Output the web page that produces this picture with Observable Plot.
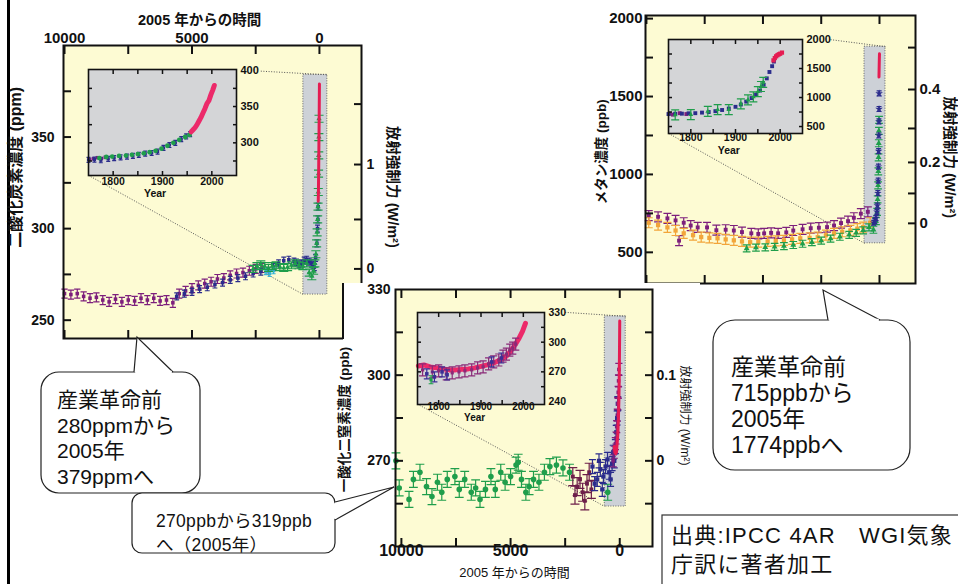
<!DOCTYPE html>
<html><head><meta charset="utf-8">
<script src="https://cdn.jsdelivr.net/npm/d3@7"></script>
<script src="https://cdn.jsdelivr.net/npm/@observablehq/plot@0.6"></script>
<style>
body{margin:0;background:#fff;}
#wrap{position:relative;width:958px;height:584px;overflow:hidden;background:#fff;}
</style></head><body><div id="wrap"></div>
<script>
// ================= DATA =================
// time before 2005 (years) and concentrations, main panels
const co2PurpleT = [10000, 9750, 9500, 9250, 9000, 8750, 8500, 8250, 8000, 7750, 7500, 7250, 7000, 6750, 6500, 6250, 6000, 5750, 5500, 5250, 5000, 4750, 4500, 4250, 4000, 3750, 3500, 3250, 3000, 2750, 2500, 2250];
const co2PurpleV = [264.5, 264, 264.5, 263, 262, 262.5, 261, 260, 261.5, 260, 261, 260.5, 262, 261, 262, 260.5, 261, 259.5, 264.5, 266, 267.5, 269, 270, 271, 272.5, 273, 274.5, 275.5, 276, 277, 278, 278.5];
const co2BlueT = [5600, 5300, 5000, 4700, 4400, 4100, 3800, 3500, 3200, 2900, 2600, 2300, 2000, 1800, 1600, 1400, 1200, 1000, 900, 800, 700, 600, 500, 400, 300, 250, 200, 150, 100, 75, 60, 50];
const co2BlueV = [263, 264.5, 265.5, 267, 268, 269.5, 270.5, 272, 273, 274, 275.5, 276.5, 277, 279, 281, 282.5, 283, 282, 281.5, 280.5, 281, 282.5, 283, 282, 281, 280, 279, 284, 292, 300, 305, 312];
const co2GreenT = [2600, 2450, 2300, 2150, 2000, 1850, 1700, 1550, 1400, 1250, 1100, 950, 800, 650, 500, 400, 300, 230, 180, 140, 110, 90, 70, 55, 45, 35, 28, 22, 16];
const co2GreenV = [278, 279.5, 280.5, 279.5, 278.5, 279.5, 280, 279, 278.5, 279, 280, 281, 280, 279.5, 281, 276, 274, 277, 281, 286, 292, 298, 305, 312, 320, 330, 340, 350, 360];
const co2CyanT = [2100, 1950, 1800];
const co2CyanV = [276.5, 275.5, 277];
const co2RedT = [47, 40, 30, 20, 10, 0];
const co2RedV = [315, 320, 331, 346, 361, 379];

const ch4PurpleT = [9900, 9500, 9100, 8750, 8600, 8400, 8100, 7800, 7400, 7000, 6600, 6250, 5900, 5500, 5200, 4950, 4650, 4350, 4000, 3700, 3300, 2950, 2600, 2250, 1950, 1650, 1350, 1100, 800, 500];
const ch4PurpleV = [735, 728, 718, 705, 575, 690, 672, 660, 660, 642, 645, 640, 630, 622, 618, 622, 625, 622, 628, 640, 648, 655, 658, 662, 672, 688, 700, 722, 748, 760];
const ch4OrangeT = [9900, 9500, 9100, 8750, 8400, 8000, 7650, 7300, 6950, 6600, 6250, 5900, 5550, 5200, 4800, 4450, 4100, 3750, 3400, 3000, 2650, 2300, 1950, 1600, 1250, 950, 700, 400];
const ch4OrangeV = [690, 675, 660, 640, 622, 610, 598, 593, 590, 583, 577, 570, 565, 566, 570, 573, 577, 583, 590, 593, 597, 610, 622, 632, 641, 652, 662, 690];
const ch4GreenT = [5700, 5300, 4900, 4500, 4100, 3700, 3300, 2900, 2500, 2100, 1700, 1300, 1000, 700, 450, 260, 150, 100, 80, 60, 50, 40, 32, 26, 20];
const ch4GreenV = [525, 530, 532, 535, 540, 547, 555, 565, 575, 588, 600, 612, 625, 641, 660, 645, 700, 760, 840, 930, 1020, 1110, 1200, 1280, 1350];
const ch4BlueT = [250, 200, 150, 110, 90, 70, 55, 45, 38, 30, 25, 20, 16];
const ch4BlueV = [690, 700, 720, 760, 800, 880, 960, 1050, 1150, 1250, 1340, 1420, 1520];
const ch4RedT = [22, 18, 14, 10, 6, 2, 0];
const ch4RedV = [1625, 1660, 1690, 1720, 1745, 1765, 1774];

const n2oGreenT = [10250, 10100, 9650, 9450, 9150, 8850, 8600, 8350, 8150, 7900, 7550, 7350, 7100, 6800, 6600, 6400, 6150, 5900, 5700, 5450, 5250, 5000, 4750, 4650, 4500, 4300, 4150, 3950, 3700, 3450, 3200, 2900, 2600, 2300, 550];
const n2oGreenV = [270, 260.5, 256.5, 263.5, 266, 261, 257.5, 262.5, 259, 263.5, 264.5, 260, 263.5, 259, 260.5, 256.5, 260, 264.5, 260, 266, 262.5, 264.5, 268.5, 269.5, 263.5, 259, 261, 263.5, 262.5, 266, 268, 268.5, 267.5, 266, 259];
const n2oMaroonT = [2150, 2050, 1950, 1820, 1700, 1600, 1500, 1400, 1300];
const n2oMaroonV = [264.5, 258, 261, 263.5, 259, 256, 262, 266, 260];
const n2oBlueT = [1250, 1150, 1030, 950, 890, 800, 750, 650, 560, 480, 420, 350, 300, 250, 200, 160, 120, 90];
const n2oBlueV = [268, 262, 263.5, 270, 267, 260, 264.5, 268, 270.5, 266, 263.5, 269, 273, 270, 275, 280, 285, 290];
const n2oPurpleT = [300, 250, 200, 170, 140, 110, 90, 70, 55, 40];
const n2oPurpleV = [270, 273, 276, 278, 282, 286, 290, 294, 298, 302];
const n2oRedT = [255, 220, 180, 150, 120, 90, 60, 40, 25, 10, 0];
const n2oRedV = [275, 273, 272.5, 273, 276, 279, 285, 291, 298, 310, 319];

// insets: calendar year and concentration
const co2InPurpleY = [1752, 1760, 1768, 1776, 1784];
const co2InPurpleV = [277, 278, 279.5, 278.5, 280];
const co2InBlueY = [1750, 1762, 1775, 1790, 1802, 1815, 1828, 1840, 1852, 1865, 1878, 1890, 1902, 1914, 1926, 1938, 1948, 1956];
const co2InBlueV = [276.5, 277, 276, 278, 279, 280, 281, 282, 283.5, 285, 286, 288, 293, 297, 300, 305, 309, 312];
const co2InGreenY = [1772, 1786, 1798, 1812, 1826, 1838, 1850, 1862, 1874, 1886, 1898, 1910, 1922, 1934, 1946, 1955];
const co2InGreenV = [279, 280.5, 281, 282, 282.5, 283.5, 284.5, 285.5, 287, 289, 292, 296, 300, 304, 308, 311];
const co2InRedY = [1958, 1962, 1966, 1970, 1974, 1978, 1982, 1986, 1990, 1994, 1998, 2002, 2005];
const co2InRedV = [315, 318, 321, 325, 330, 335, 341, 347, 354, 358, 366, 373, 379];

const ch4InPurpleY = [1752, 1760, 1775, 1790];
const ch4InPurpleV = [720, 705, 730, 715];
const ch4InBlueY = [1750, 1765, 1780, 1795, 1810, 1825, 1840, 1855, 1870, 1885, 1900, 1912, 1924, 1936, 1946, 1955, 1963, 1970, 1976, 1982, 1986];
const ch4InBlueV = [715, 720, 722, 728, 730, 740, 750, 765, 785, 810, 840, 880, 930, 990, 1050, 1120, 1220, 1330, 1440, 1540, 1620];
const ch4InGreenY = [1765, 1800, 1838, 1860, 1885, 1912, 1928, 1940, 1950, 1957, 1962];
const ch4InGreenV = [700, 705, 760, 790, 790, 890, 960, 1010, 1100, 1190, 1260];
const ch4InRedY = [1985, 1988, 1991, 1994, 1997, 2000, 2004];
const ch4InRedV = [1640, 1680, 1710, 1730, 1745, 1755, 1774];

const n2oInRedY = [1752, 1765, 1780, 1795, 1810, 1825, 1840, 1855, 1870, 1885, 1900, 1915, 1930, 1945, 1960, 1970, 1980, 1990, 1998, 2005];
const n2oInRedV = [276, 277, 275, 274, 273, 272, 272, 272.5, 273, 274, 275.5, 277, 279, 282, 286, 291, 297, 304, 311, 319];
const n2oInPurpleY = [1762, 1785, 1800, 1818, 1832, 1848, 1862, 1878, 1892, 1905, 1918, 1930, 1942, 1952, 1960, 1968, 1975, 1982];
const n2oInPurpleV = [272, 270, 271, 268, 269, 270, 271, 272, 274, 275, 278, 280, 282, 286, 288, 292, 294, 298];
const n2oInBlueY = [1772, 1790, 1808, 1820, 1925, 1948];
const n2oInBlueV = [268, 265, 270, 267, 280, 284];
const n2oInGreenY = [1782];
const n2oInGreenV = [262];

// axis ticks / labels
const timeTicks = [10000, 7500, 5000, 2500, 0];
const timeLabels = [10000, 5000, 0];
const yearTicks = [1800, 1850, 1900, 1950, 2000];
const yearLabels = [1800, 1900, 2000];
const co2Ticks = [250, 275, 300, 325, 350, 375];
const co2Labels = [250, 300, 350];
const co2ForcingAt = [278, 305, 335, 368];          // ppm where forcing = 0, 0.5, 1, 1.5
const co2ForcingLabels = [{v: 278, s: "0"}, {v: 335, s: "1"}];
const ch4Ticks = [500, 750, 1000, 1250, 1500, 1750, 2000];
const ch4Labels = [500, 1000, 1500, 2000];
const ch4ForcingAt = [686, 878, 1077, 1295, 1545, 1814]; // ppb for 0 .. 0.5
const ch4ForcingLabels = [{v: 686, s: "0"}, {v: 1077, s: "0.2"}, {v: 1545, s: "0.4"}];
const n2oTicks = [255, 270, 285, 300, 315];
const n2oLabels = [270, 300, 330];
const n2oForcingAt = [255, 270, 285, 300, 315];
const n2oForcingLabels = [{v: 270, s: "0"}, {v: 300, s: "0.1"}];
const co2InTicks = [275, 300, 325, 350, 375];
const co2InLabels = [300, 350, 400];
const ch4InTicks = [500, 750, 1000, 1250, 1500, 1750];
const ch4InLabels = [500, 1000, 1500, 2000];
const n2oInTicks = [255, 270, 285, 300, 315];
const n2oInLabels = [240, 270, 300, 330];

const timeTitle = "2005 年からの時間";
const forcingTitle = "放射強制力 (W/m²)";
const co2Title = "二酸化炭素濃度 (ppm)";
const ch4Title = "メタン濃度 (ppb)";
const n2oTitle = "一酸化二窒素濃度 (ppb)";

const calloutCO2 = ["産業革命前", "280ppmから", "2005年", "379ppmへ"];
const calloutCH4 = ["産業革命前", "715ppbから", "2005年", "1774ppbへ"];
const calloutN2O = ["270ppbから319ppb", "へ（2005年）"];
const sourceText = ["出典:IPCC 4AR\u3000WGI気象", "庁訳に著者加工"];

// ================= STYLE =================
const YELLOW = "#fdfbd3", INSET_GREY = "#d4d5d7", ZOOM_GREY = "#cdd1d7";
const PURPLE = "#7d1f7c", BLUE = "#2b2c8c", GREEN = "#1f9e4b", RED = "#e51c52",
      ORANGE = "#f2a53a", MAROON = "#6d1f49", CYAN = "#36b3d6", PINK = "#ec2a6a";
const SANS = "'Liberation Sans', Arial, 'Noto Sans CJK JP', sans-serif";
const JP = "'Liberation Sans', 'Noto Sans CJK JP', sans-serif";
const wrap = document.getElementById("wrap");

function place(el, left, top) {
  el.style.position = "absolute"; el.style.left = left + "px"; el.style.top = top + "px";
  wrap.appendChild(el); return el;
}
function ibeam(cap) {
  return {draw(ctx, size) {
    const r = Math.sqrt(size / Math.PI), c = r * cap;
    ctx.moveTo(-c, -r); ctx.lineTo(c, -r);
    ctx.moveTo(0, -r); ctx.lineTo(0, r);
    ctx.moveTo(-c, r); ctx.lineTo(c, r);
  }};
}
const pts = (ts, vs) => ts.map((t, i) => ({t, v: vs[i]}));
function series(ts, vs, color, o = {}) {
  const d = pts(ts, vs), out = [];
  if (o.err) out.push(Plot.dot(d, {x: "t", y: "v", r: o.err, symbol: ibeam(o.cap ?? 0.6), stroke: color, strokeWidth: o.ew ?? 1.2, fill: "none"}));
  out.push(Plot.dot(d, {x: "t", y: "v", r: o.r ?? 1.8, symbol: o.symbol ?? "square", fill: color, stroke: "none"}));
  return out;
}
const curve = (ts, vs, color, w) => Plot.line(pts(ts, vs), {x: "t", y: "v", stroke: color, strokeWidth: w, strokeLinecap: "round", strokeLinejoin: "round"});
const lbl = (o) => ({fill: "#111", fontWeight: "bold", fontFamily: SANS, ...o});

function axes(xt, yt, rt, tick, sw) {
  const a = {tickSize: -tick, tickFormat: () => "", label: null, strokeWidth: sw, stroke: "#111"};
  return [
    Plot.axisX({...a, anchor: "top", ticks: xt}), Plot.axisX({...a, anchor: "bottom", ticks: xt}),
    Plot.axisY({...a, anchor: "left", ticks: yt}), Plot.axisY({...a, anchor: "right", ticks: rt})
  ];
}

function buildMain(c) {
  const marks = [
    Plot.frame({fill: YELLOW}),
    Plot.rect([c.zoom], {x1: "t1", x2: "t2", y1: "v1", y2: "v2", fill: ZOOM_GREY, stroke: "#666", strokeWidth: 1, strokeDasharray: "1,1.5"}),
    Plot.link(c.links, {x1: "t1", y1: "v1", x2: "t2", y2: "v2", stroke: "#555", strokeWidth: 1, strokeDasharray: "1,1.6"}),
    ...c.series,
    ...axes(timeTicks, c.yTicks, c.rTicks, 8, 2),
    Plot.frame({stroke: "#111", strokeWidth: 2}),
    ...c.texts
  ];
  const svg = Plot.plot({
    width: c.w, height: c.h, marginLeft: c.mL, marginRight: c.mR, marginTop: c.mT, marginBottom: c.mB,
    x: {domain: c.xDomain, axis: null}, y: {domain: c.yDomain, axis: null},
    style: {background: c.bg || "transparent", overflow: "visible"}, marks
  });
  place(svg, c.left, c.top);
  return {svg, left: c.left, top: c.top, c};
}

function buildInset(c, host) {
  const sx = host.svg.scale("x"), sy = host.svg.scale("y");
  const fx0 = host.left + sx.apply(c.box.t1), fx1 = host.left + sx.apply(c.box.t2);
  const fy0 = host.top + sy.apply(c.box.v1), fy1 = host.top + sy.apply(c.box.v2);
  const m = {l: 4, r: 40, t: 10, b: 40};
  const W = Math.round(fx1 - fx0), H = Math.round(fy1 - fy0);
  const svg = Plot.plot({
    width: W + m.l + m.r, height: H + m.t + m.b, marginLeft: m.l, marginRight: m.r, marginTop: m.t, marginBottom: m.b,
    x: {domain: [1750, 2050], axis: null}, y: {domain: c.yDomain, axis: null},
    style: {background: "transparent", overflow: "visible"},
    marks: [
      Plot.frame({fill: INSET_GREY}),
      ...c.series,
      ...axes(yearTicks, c.yTicks, c.yTicks, 4, 1.5),
      Plot.frame({stroke: "#111", strokeWidth: 1.6}),
      Plot.text(yearLabels, lbl({x: d => d, text: d => String(d), frameAnchor: "bottom", dy: c.dyTick, fontSize: c.fx ?? 10.5})),
      Plot.text([{t: 1885, s: "Year"}], lbl({x: "t", text: "s", frameAnchor: "bottom", dy: c.dyYear, fontSize: c.fx ?? 10.5})),
      Plot.text(c.yLabels, lbl({y: d => d, text: d => String(d), frameAnchor: "right", dx: 4, textAnchor: "start", fontSize: c.fs ?? 11}))
    ]
  });
  place(svg, Math.round(fx0) - m.l, Math.round(fy0) - m.t);
}

// ================= CO2 =================
const co2Panel = buildMain({
  left: 0, top: 0, w: 420, h: 345, mL: 63, mR: 59, mT: 45, mB: 7,
  xDomain: [10040, -1650], yDomain: [240, 400], yTicks: co2Ticks, rTicks: co2ForcingAt,
  zoom: {t1: 630, t2: -310, v1: 264, v2: 384},
  links: [{t1: 2300, v1: 386, t2: -310, v2: 384}, {t1: 9060, v1: 329.1, t2: 630, v2: 264}],
  series: [
    ...series(co2PurpleT, co2PurpleV, PURPLE, {err: 4.5, cap: 0.7, r: 2}),
    ...series(co2BlueT, co2BlueV, BLUE, {err: 3.5, cap: 0.7, r: 2}),
    ...series(co2CyanT, co2CyanV, CYAN, {err: 3, cap: 0.7, r: 1.8}),
    ...series(co2GreenT, co2GreenV, GREEN, {err: 3.5, cap: 1.3, r: 2, symbol: "triangle"}),
    curve(co2RedT, co2RedV, RED, 3)
  ],
  texts: [
    Plot.text(timeLabels, lbl({x: d => d, text: d => String(d), frameAnchor: "top", dy: -13, fontSize: 15})),
    Plot.text([{t: 4700, s: timeTitle}], lbl({x: "t", text: "s", frameAnchor: "top", dy: -31, fontSize: 14.5})),
    Plot.text(co2Labels, lbl({y: d => d, text: d => String(d), frameAnchor: "left", dx: -9, textAnchor: "end", fontSize: 14})),
    Plot.text(co2ForcingLabels, lbl({y: "v", text: "s", frameAnchor: "right", dx: 5, textAnchor: "start", fontSize: 14}))
  ]
});
buildInset({
  box: {t1: 9060, t2: 3255, v1: 386.8, v2: 329.1}, yDomain: [255, 401], yTicks: co2InTicks, yLabels: co2InLabels,
  dyTick: 9, dyYear: 21,
  series: [
    ...series(co2InPurpleY, co2InPurpleV, PURPLE, {r: 2}),
    ...series(co2InBlueY, co2InBlueV, BLUE, {err: 2.5, cap: 0.8, r: 1.8}),
    ...series(co2InGreenY, co2InGreenV, GREEN, {r: 2.4, symbol: "circle"}),
    curve(co2InRedY, co2InRedV, PINK, 5)
  ]
}, co2Panel);

// ================= CH4 =================
const ch4Panel = buildMain({
  left: 560, top: 0, w: 398, h: 300, mL: 85, mR: 43, mT: 15, mB: 17,
  xDomain: [10040, -1545], yDomain: [300, 2020], yTicks: ch4Ticks, rTicks: ch4ForcingAt,
  zoom: {t1: 643, t2: -257, v1: 558, v2: 1820},
  links: [{t1: 2100, v1: 1865, t2: -257, v2: 1820}, {t1: 9048, v1: 1263, t2: 643, v2: 558}],
  series: [
    ...series(ch4PurpleT, ch4PurpleV, PURPLE, {err: 5, cap: 0.8, r: 2.2}),
    ...series(ch4OrangeT, ch4OrangeV, ORANGE, {err: 5, cap: 0.8, r: 2.4}),
    ...series(ch4GreenT, ch4GreenV, GREEN, {err: 3.5, cap: 1.1, r: 2.2, symbol: "triangle"}),
    ...series(ch4BlueT, ch4BlueV, BLUE, {err: 2.5, cap: 1, r: 2.4, symbol: "star"}),
    curve(ch4RedT, ch4RedV, RED, 3)
  ],
  texts: [
    Plot.text(ch4Labels, lbl({y: d => d, text: d => String(d), frameAnchor: "left", dx: -3, textAnchor: "end", fontSize: 15})),
    Plot.text(ch4ForcingLabels, lbl({y: "v", text: "s", frameAnchor: "right", dx: 4, textAnchor: "start", fontSize: 15}))
  ]
});
buildInset({
  box: {t1: 9048, t2: 3302, v1: 1865, v2: 1263}, yDomain: [380, 2000], yTicks: ch4InTicks, yLabels: ch4InLabels,
  dyTick: 7, dyYear: 20,
  series: [
    ...series(ch4InPurpleY, ch4InPurpleV, PURPLE, {r: 2.2}),
    ...series(ch4InBlueY, ch4InBlueV, BLUE, {r: 2.2}),
    ...series(ch4InGreenY, ch4InGreenV, GREEN, {err: 5, cap: 0.8, r: 1.8, symbol: "triangle"}),
    ...series(ch4InRedY, ch4InRedV, RED, {r: 2.4})
  ]
}, ch4Panel);

// ================= N2O =================
const n2oPanel = buildMain({
  left: 343, top: 283, w: 357, h: 301, mL: 52, mR: 48, mT: 6, mB: 38, bg: "#ffffff",
  xDomain: [10270, -1500], yDomain: [240, 330], yTicks: n2oTicks, rTicks: n2oForcingAt,
  zoom: {t1: 685, t2: -274, v1: 254, v2: 320.6},
  links: [{t1: 2500, v1: 322, t2: -274, v2: 320.6}, {t1: 9270, v1: 289.9, t2: 685, v2: 254}],
  series: [
    ...series(n2oGreenT, n2oGreenV, GREEN, {err: 8, cap: 0.55, r: 2.8, symbol: "circle"}),
    ...series(n2oMaroonT, n2oMaroonV, MAROON, {err: 9, cap: 0.5, r: 2.2}),
    ...series(n2oBlueT, n2oBlueV, BLUE, {err: 7, cap: 0.5, r: 2.4}),
    ...series(n2oPurpleT, n2oPurpleV, PURPLE, {err: 6, cap: 0.6, r: 2}),
    curve(n2oRedT, n2oRedV, RED, 3)
  ],
  texts: [
    Plot.text(timeLabels, lbl({x: d => d, text: d => String(d), frameAnchor: "bottom", dy: 9, fontSize: 16})),
    Plot.text([{t: 4818, s: timeTitle}], lbl({x: "t", text: "s", frameAnchor: "bottom", dy: 30, fontSize: 13, fontWeight: "normal"})),
    Plot.text(n2oLabels, lbl({y: d => d, text: d => String(d), frameAnchor: "left", dx: -5, textAnchor: "end", fontSize: 14})),
    Plot.text(n2oForcingLabels, lbl({y: "v", text: "s", frameAnchor: "right", dx: 4, textAnchor: "start", fontSize: 14}))
  ]
});
buildInset({
  box: {t1: 9270, t2: 3455, v1: 322, v2: 289.9}, yDomain: [237, 330], yTicks: n2oInTicks, yLabels: n2oInLabels,
  dyTick: 5, dyYear: 16, fs: 10.5, fx: 10,
  series: [
    curve(n2oInRedY, n2oInRedV, PINK, 5),
    ...series(n2oInPurpleY, n2oInPurpleV, "#8a2a78", {err: 6, cap: 0.6, r: 1.8}),
    ...series(n2oInBlueY, n2oInBlueV, "#3a2f96", {err: 5, cap: 0.6, r: 2}),
    ...series(n2oInGreenY, n2oInGreenV, GREEN, {err: 4, cap: 0.6, r: 1.8})
  ]
}, n2oPanel);

// ================= ANNOTATIONS =================
const ov = d3.create("svg").attr("width", 958).attr("height", 584)
  .attr("style", "position:absolute;left:0;top:0;overflow:visible");
ov.append("rect").attr("x", 7).attr("y", 0).attr("width", 3).attr("height", 584).attr("fill", "#000");
// edge where the N2O picture is pasted over the CO2 frame
ov.append("line").attr("x1", n2oPanel.left).attr("x2", n2oPanel.left).attr("y1", n2oPanel.top)
  .attr("y2", co2Panel.top + co2Panel.c.h - co2Panel.c.mB + 1).attr("stroke", "#111").attr("stroke-width", 2);

// rotated axis titles, positioned through each panel's own y scale
function vtitle(host, t) {
  const c = host.c, sy = host.svg.scale("y");
  const fx = t.side === "left" ? c.mL : c.w - c.mR;
  const x = host.left + fx + t.dx, y = host.top + sy.apply(t.v);
  ov.append("text").attr("transform", `translate(${x},${y}) rotate(${t.rotate})`)
    .attr("text-anchor", "middle").attr("dy", "0.36em")
    .attr("font-family", SANS).attr("font-size", t.fs).attr("font-weight", t.weight || "bold")
    .attr("fill", "#111").text(t.s);
}
vtitle(co2Panel, {s: co2Title, v: 333.2, side: "left", dx: -48, rotate: -90, fs: 16});
vtitle(co2Panel, {s: forcingTitle, v: 322.5, side: "right", dx: 32, rotate: 90, fs: 14.5});
vtitle(ch4Panel, {s: ch4Title, v: 1142, side: "left", dx: -44, rotate: -90, fs: 13.5});
vtitle(ch4Panel, {s: forcingTitle, v: 1107, side: "right", dx: 35, rotate: 90, fs: 14.5});
vtitle(n2oPanel, {s: n2oTitle, v: 284.3, side: "left", dx: -51, rotate: -90, fs: 13.5});
vtitle(n2oPanel, {s: forcingTitle, v: 285.7, side: "right", dx: 33, rotate: 90, fs: 12, weight: "normal"});

function callout(b) {
  const g = ov.append("g");
  g.append("rect").attr("x", b.x).attr("y", b.y).attr("width", b.w).attr("height", b.h).attr("rx", b.r)
    .attr("fill", "#fff").attr("stroke", "#222").attr("stroke-width", 1.2);
  g.append("path").attr("d", `M${b.b1}L${b.tip}L${b.b2}`).attr("fill", "#fff").attr("stroke", "#222").attr("stroke-width", 1.2);
  const dx = b.b2[0] - b.b1[0], dy = b.b2[1] - b.b1[1], L = Math.hypot(dx, dy), ux = dx / L, uy = dy / L;
  g.append("path").attr("d", `M${b.b1[0] + ux * 1.2},${b.b1[1] + uy * 1.2}L${b.b2[0] - ux * 1.2},${b.b2[1] - uy * 1.2}`)
    .attr("stroke", "#fff").attr("stroke-width", 2.6);
  b.lines.forEach((s, i) => g.append("text").attr("x", b.tx).attr("y", b.ty + i * b.lh).text(s)
    .attr("font-family", JP).attr("font-size", b.fs).attr("letter-spacing", b.ls || 0).attr("fill", "#111"));
}
callout({x: 41, y: 372, w: 159, h: 121, r: 18, tip: [137, 337], b1: [134, 372], b2: [173, 372],
  lines: calloutCO2, tx: 57, ty: 407, lh: 25.7, fs: 21});
callout({x: 713, y: 320, w: 197, h: 150, r: 22, tip: [823, 290], b1: [828, 320], b2: [880, 320],
  lines: calloutCH4, tx: 731, ty: 375, lh: 26, fs: 23});
callout({x: 132, y: 493, w: 203, h: 60, r: 10, tip: [394, 487], b1: [335, 502], b2: [335, 520],
  lines: calloutN2O, tx: 156, ty: 527, lh: 24, fs: 17.5, ls: 0.3});
ov.append("rect").attr("x", 662).attr("y", 515).attr("width", 310).attr("height", 90)
  .attr("fill", "#fff").attr("stroke", "#333").attr("stroke-width", 1.2);
sourceText.forEach((s, i) => ov.append("text").attr("x", 671).attr("y", 543 + i * 29).text(s)
  .attr("font-family", JP).attr("font-size", 22).attr("letter-spacing", 1.2).attr("fill", "#111"));
wrap.appendChild(ov.node());
</script></body></html>
